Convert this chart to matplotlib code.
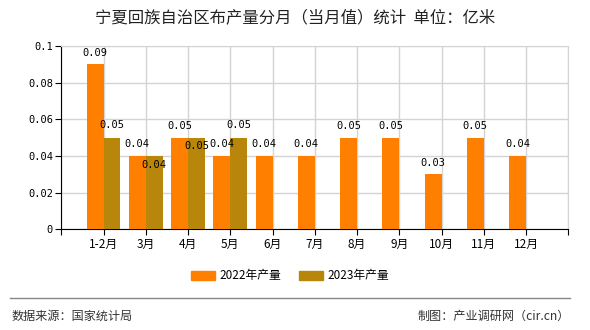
import matplotlib
matplotlib.use("Agg")
import matplotlib.pyplot as plt
import numpy as np
from matplotlib.patches import Patch

plt.rcParams['font.family'] = ['Noto Sans CJK SC', 'DejaVu Sans']

categories = ['1-2月', '3月', '4月', '5月', '6月', '7月', '8月', '9月', '10月', '11月', '12月']
s2022 = [0.09, 0.04, 0.05, 0.04, 0.04, 0.04, 0.05, 0.05, 0.03, 0.05, 0.04]
s2023 = [0.05, 0.04, 0.05, 0.05, None, None, None, None, None, None, None]
label_inside_2023 = [False, True, True, False, False, False, False, False, False, False, False]
yticks = [0, 0.02, 0.04, 0.06, 0.08, 0.1]
ytick_labels = ['0', '0.02', '0.04', '0.06', '0.08', '0.1']
name2022 = '2022年产量'
name2023 = '2023年产量'
title = '宁夏回族自治区布产量分月（当月值）统计  单位：亿米'
source = '数据来源：国家统计局'
maker = '制图：产业调研网（cir.cn）'

c2022 = '#FF8000'
c2023 = '#B8860B'
numfont = ['DejaVu Sans Mono', 'Noto Sans CJK SC']

fig = plt.figure(figsize=(5.9, 3.3), dpi=100)
ax = fig.add_axes([61.3/590, 1-229.3/330, (568.3-61.3)/590, (229.3-46)/330])

x = np.arange(1, len(categories)+1)
w = 0.4
ax.bar(x - w/2, s2022, width=w, color=c2022, zorder=3)
x23 = [xi for xi, v in zip(x, s2023) if v is not None]
v23 = [v for v in s2023 if v is not None]
ax.bar(np.array(x23) + w/2, v23, width=w, color=c2023, zorder=3)

for xi, v in zip(x, s2022):
    ax.annotate(f'{v:.2f}', (xi - w/2, v), xytext=(0, 8.5), textcoords='offset points',
                ha='center', va='center', fontsize=7.5, family=numfont, zorder=5)
for xi, v, ins in zip(x, s2023, label_inside_2023):
    if v is None:
        continue
    off = -6.3 if ins else 9
    ax.annotate(f'{v:.2f}', (xi + w/2, v), xytext=(0, off), textcoords='offset points',
                ha='center', va='center', fontsize=7.5, family=numfont, zorder=5)

ax.set_xlim(0, len(categories)+1)
ax.set_ylim(0, 0.1)
ax.set_xticks(np.arange(0, len(categories)+2))
ax.set_xticklabels([''] + categories + [''], fontsize=8.5)
ax.set_yticks(yticks)
ax.set_yticklabels(ytick_labels, family=numfont, fontsize=7.5)
ax.grid(True, color='#d4d4d4', linewidth=1, zorder=0)
ax.set_axisbelow(True)
for s in ['top', 'right']:
    ax.spines[s].set_color('#d4d4d4')
for s in ['left', 'bottom']:
    ax.spines[s].set_color('black')
ax.tick_params(axis='both', direction='out', length=4, color='black', pad=2)

fig.text(0.5, 1-18/330, title, ha='center', va='center', fontsize=11.8, color='#222222')

handles = [Patch(color=c2022, label=name2022), Patch(color=c2023, label=name2023)]
fig.legend(handles=handles, loc='center', bbox_to_anchor=(0.492, 1-276/330), ncol=2, frameon=False,
           fontsize=8.5, handlelength=2.0, handleheight=0.8, columnspacing=1.5, handletextpad=0.4)

fig.add_artist(plt.Line2D([10/590, 570/590], [1-298/330, 1-298/330], color='#888888', linewidth=1))
fig.text(12/590, 1-316/330, source, ha='left', va='center', fontsize=8.7, color='#333333')
fig.text(570/590, 1-316/330, maker, ha='right', va='center', fontsize=8.7, color='#333333')

fig.savefig('out.png', dpi=100)
